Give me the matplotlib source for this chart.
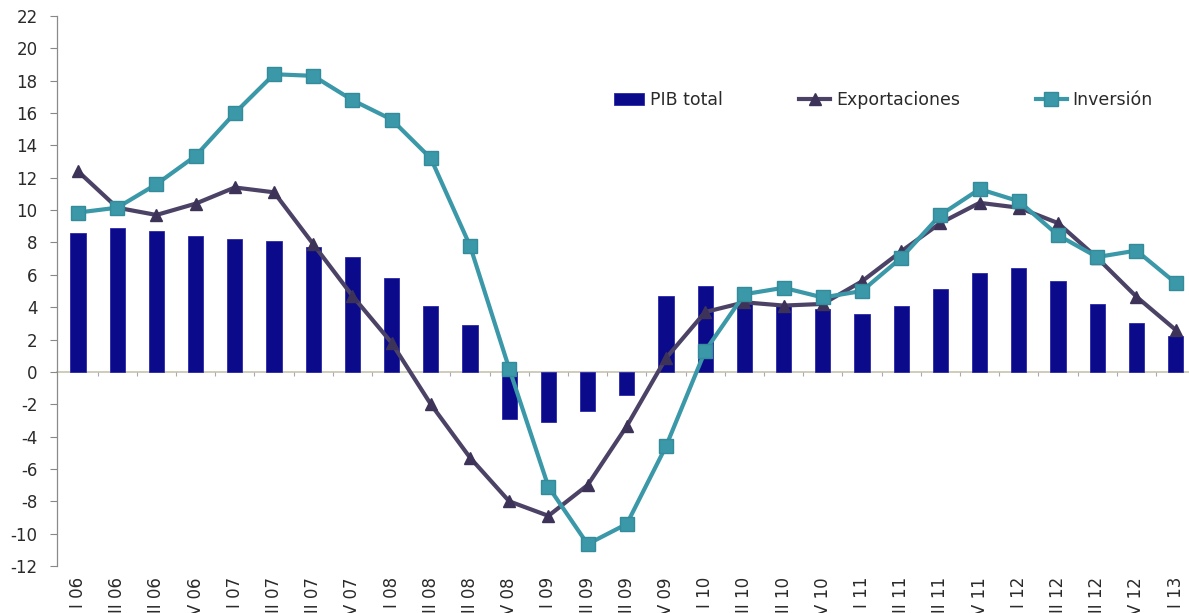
import numpy as np
import matplotlib
matplotlib.use("Agg")
import matplotlib.pyplot as plt

# Quarterly growth rates (%)
quarters = ["I 06", "II 06", "III 06", "IV 06",
            "I 07", "II 07", "III 07", "IV 07",
            "I 08", "II 08", "III 08", "IV 08",
            "I 09", "II 09", "III 09", "IV 09",
            "I 10", "II 10", "III 10", "IV 10",
            "I 11", "II 11", "III 11", "IV 11",
            "I 12", "II 12", "III 12", "IV 12",
            "I 13"]

pib_total = [8.6, 8.9, 8.7, 8.4, 8.2, 8.1, 7.7, 7.1, 5.8, 4.1, 2.9, -2.9,
             -3.1, -2.4, -1.4, 4.7, 5.3, 4.3, 4.1, 3.9, 3.6, 4.1, 5.1, 6.1,
             6.4, 5.6, 4.2, 3.0, 2.2]

exportaciones = [12.4, 10.15, 9.7, 10.4, 11.4, 11.1, 7.9, 4.7, 1.8, -2.0,
                 -5.3, -8.0, -8.9, -7.0, -3.35, 0.85, 3.7, 4.3, 4.1, 4.2,
                 5.6, 7.45, 9.2, 10.45, 10.15, 9.2, 7.05, 4.65, 2.6]

inversion = [9.85, 10.15, 11.6, 13.35, 16.0, 18.4, 18.3, 16.8, 15.6, 13.2,
             7.8, 0.2, -7.1, -10.65, -9.4, -4.6, 1.3, 4.8, 5.2, 4.6,
             5.0, 7.05, 9.7, 11.3, 10.55, 8.45, 7.1, 7.5, 5.5]

y_ticks = list(range(-12, 23, 2))

plt.rcParams['font.family'] = ['DejaVu Sans']
plt.rcParams['axes.unicode_minus'] = False

BAR_COLOR = '#0a0a8a'
EXP_COLOR = '#4b4266'
INV_COLOR = '#3a98a8'
TEXT_COLOR = '#2a2a2a'

fig = plt.figure(figsize=(11.89, 6.13), dpi=100)
ax = fig.add_axes([57 / 1189, 47 / 613, 1 - 57 / 1189, 550 / 613])

x = np.arange(len(quarters))

bars = ax.bar(x, pib_total, width=0.39, color=BAR_COLOR, edgecolor='#2a2aa8',
              linewidth=0.6, label='PIB total', zorder=2)
exp_line, = ax.plot(x, exportaciones, color=EXP_COLOR, linewidth=3.0, marker='^',
                    markersize=9, markerfacecolor='#3d3358',
                    markeredgecolor='#3d3358', label='Exportaciones', zorder=3)
inv_line, = ax.plot(x, inversion, color=INV_COLOR, linewidth=3.0, marker='s',
                    markersize=9.5, markerfacecolor=INV_COLOR,
                    markeredgecolor='#348c9b', label='Inversión', zorder=4)

ax.set_ylim(-12, 22)
ax.set_xlim(-0.536, (1189 - 78) / 39.2)
ax.set_yticks(y_ticks)
ax.tick_params(axis='y', direction='out', length=5, width=0.8, color='#888888',
               labelsize=12, labelcolor=TEXT_COLOR, pad=9)

# zero line acts as the category axis, with small ticks between quarters
for side in ('top', 'right'):
    ax.spines[side].set_visible(False)
ax.spines['left'].set_color('#8a8a8a')
ax.spines['left'].set_linewidth(0.9)
ax.spines['bottom'].set_position(('data', 0))
ax.spines['bottom'].set_color('#c8c4b0')
ax.spines['bottom'].set_linewidth(1.2)
ax.spines['bottom'].set_zorder(1)
ax.set_xticks(x[:-1] + 0.5)
ax.set_xticklabels([])
ax.tick_params(axis='x', direction='out', length=3, width=0.8, color='#aaaaaa')

# quarter labels sit below the plot area
sec = ax.secondary_xaxis(0)
sec.set_xticks(x)
sec.set_xticklabels(quarters, rotation=90, va='top', ha='center')
sec.tick_params(axis='x', length=0, pad=8, labelsize=12, labelcolor=TEXT_COLOR)
sec.spines['bottom'].set_visible(False)

fig.legend([bars, exp_line, inv_line], ['PIB total', 'Exportaciones', 'Inversión'],
           loc='center left', bbox_to_anchor=(605 / 1189, 1 - 100 / 613),
           ncol=3, frameon=False, fontsize=12.5, handlelength=1.75,
           handletextpad=0.35, columnspacing=4.4, borderpad=0,
           labelcolor=TEXT_COLOR)

fig.savefig('out.png', dpi=100, facecolor='white')
